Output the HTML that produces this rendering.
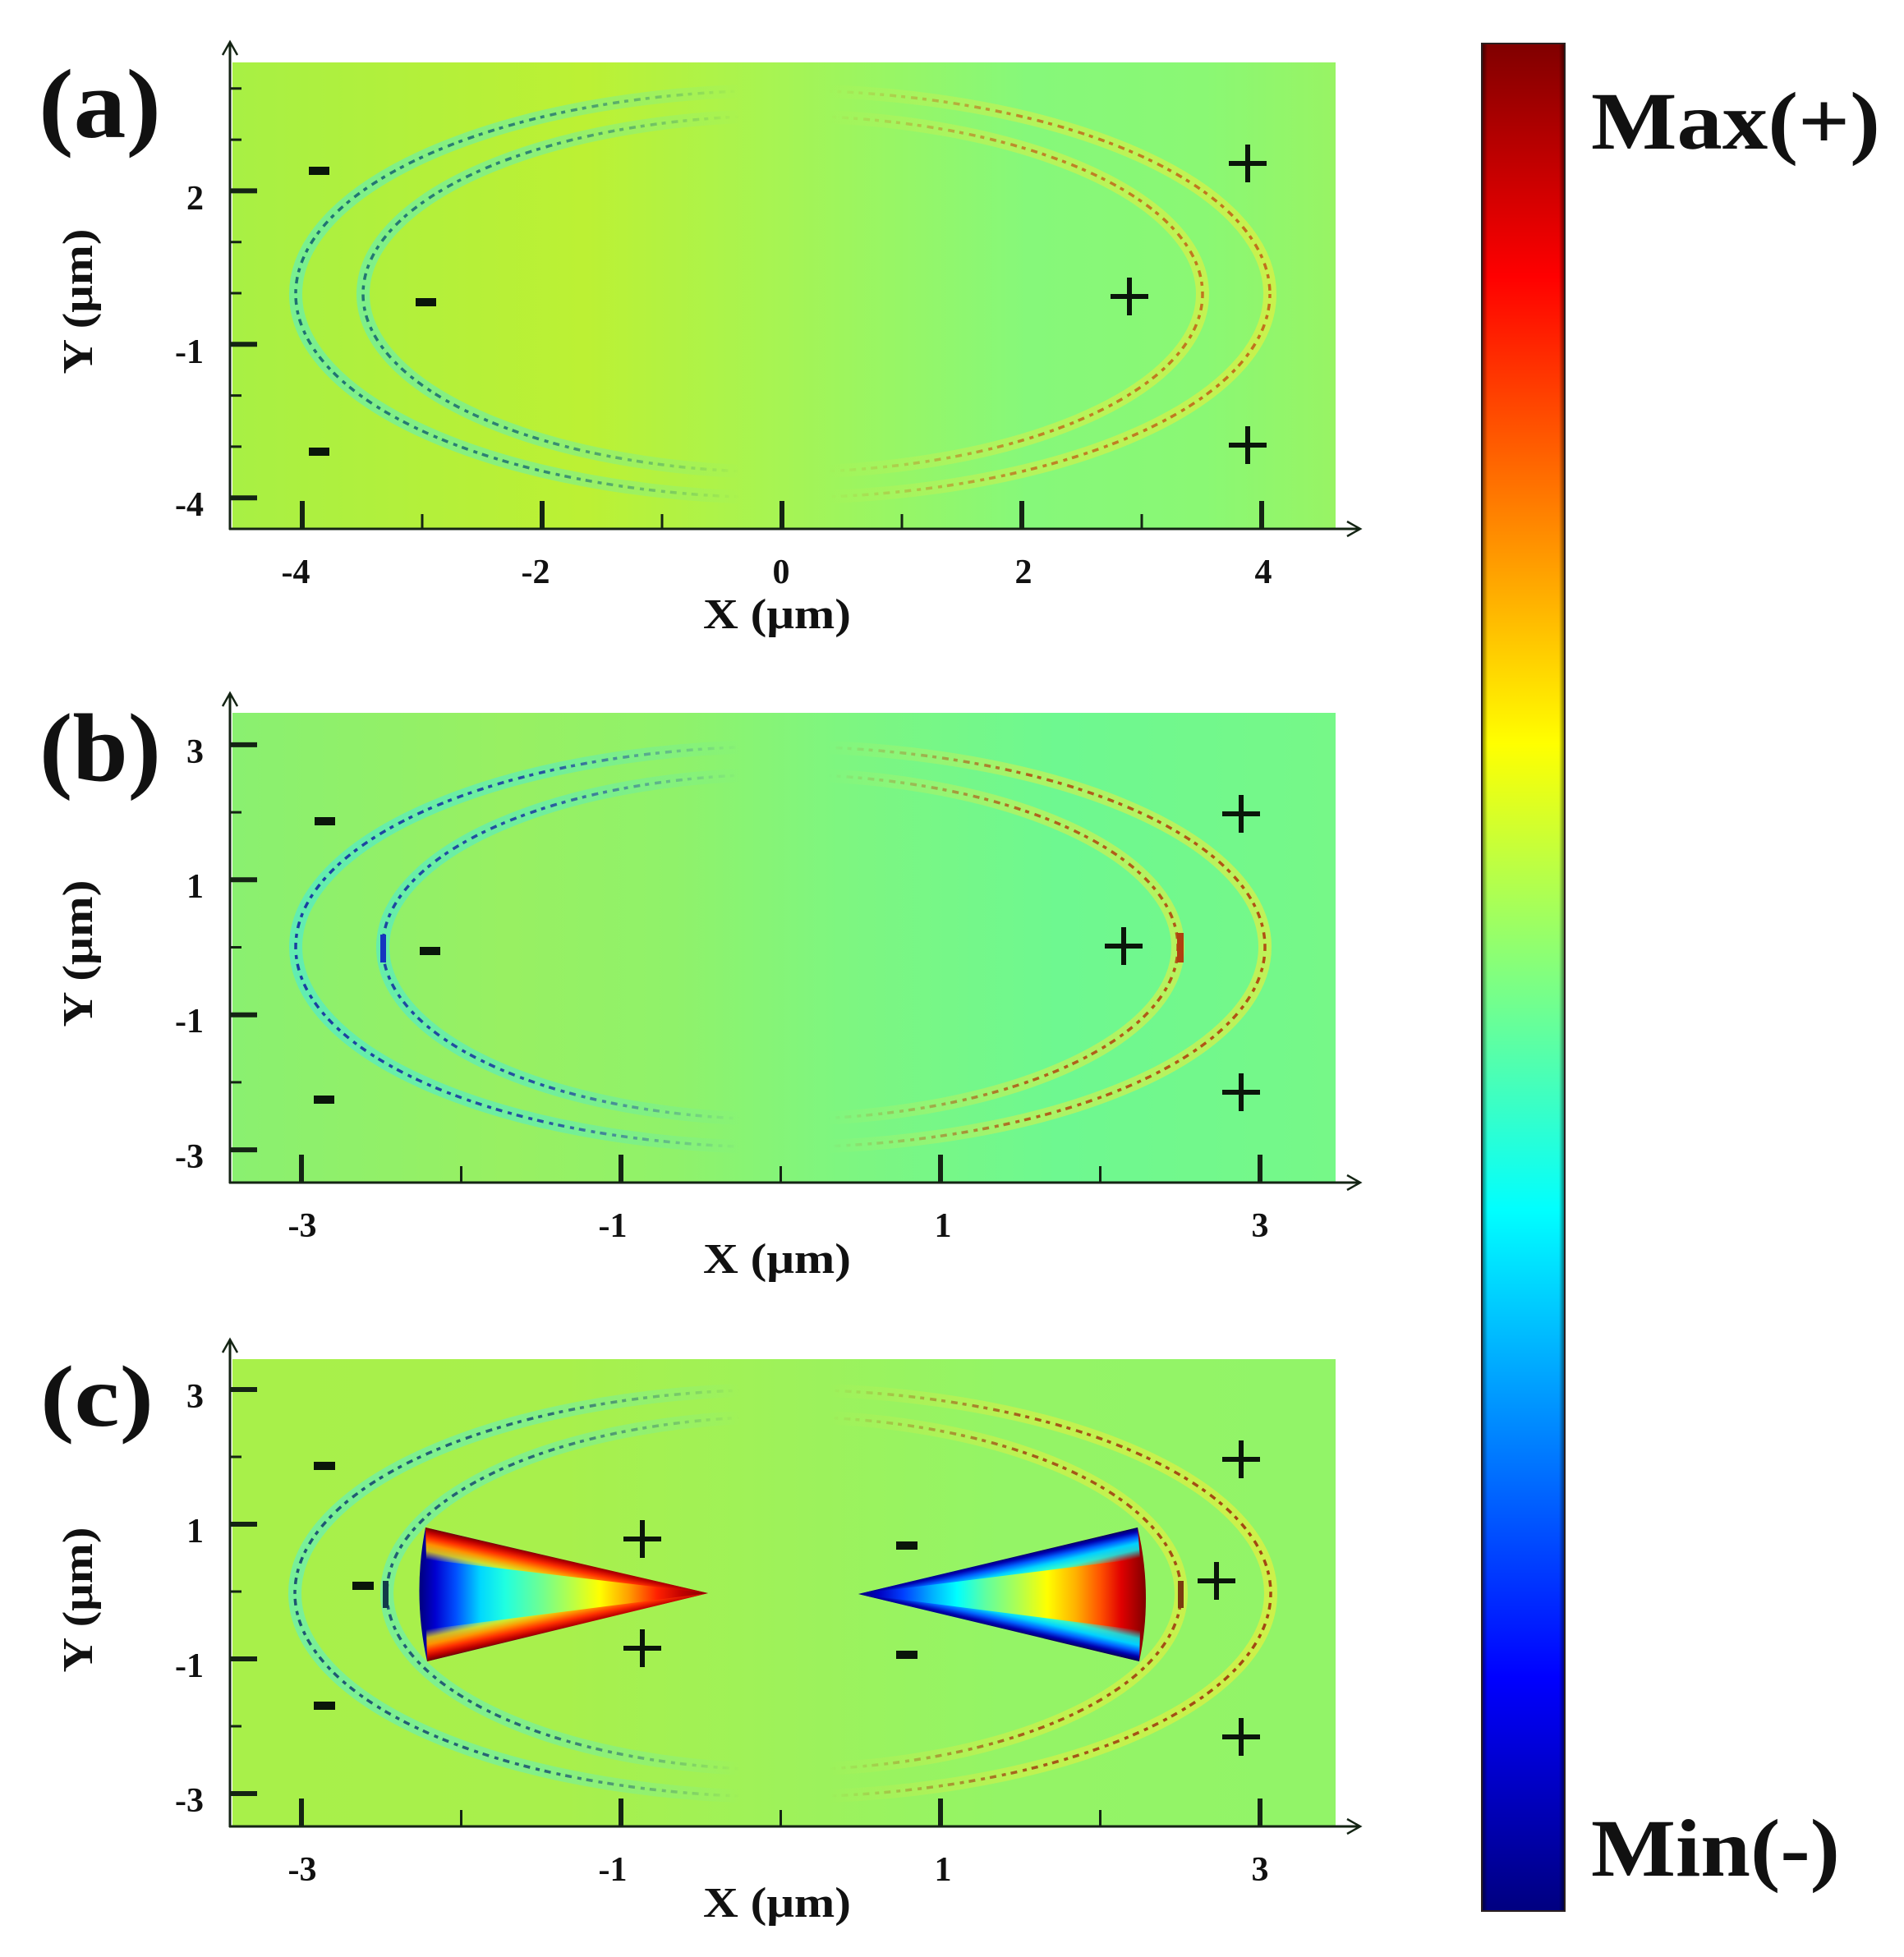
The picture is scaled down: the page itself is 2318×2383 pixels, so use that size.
<!DOCTYPE html>
<html>
<head>
<meta charset="utf-8">
<style>
html,body{margin:0;padding:0;background:#fff;}
svg{display:block;}
text{font-family:"Liberation Serif","DejaVu Serif",serif;font-weight:bold;fill:#111;}
</style>
</head>
<body>
<svg xmlns="http://www.w3.org/2000/svg" width="2318" height="2383" viewBox="0 0 2318 2383">
<defs>
  <linearGradient id="bgA" gradientUnits="userSpaceOnUse" x1="283" y1="0" x2="1626" y2="0">
    <stop offset="0" stop-color="#a8f044"/>
    <stop offset="0.18" stop-color="#b4f03a"/>
    <stop offset="0.32" stop-color="#bcf134"/>
    <stop offset="0.5" stop-color="#a6f454"/>
    <stop offset="0.72" stop-color="#86f87a"/>
    <stop offset="0.88" stop-color="#8af874"/>
    <stop offset="1" stop-color="#98f464"/>
  </linearGradient>
  <linearGradient id="bgB" gradientUnits="userSpaceOnUse" x1="283" y1="0" x2="1626" y2="0">
    <stop offset="0" stop-color="#8af070"/>
    <stop offset="0.25" stop-color="#98f062"/>
    <stop offset="0.4" stop-color="#90f26a"/>
    <stop offset="0.55" stop-color="#7ef680"/>
    <stop offset="0.75" stop-color="#6ef890"/>
    <stop offset="1" stop-color="#76f888"/>
  </linearGradient>
  <linearGradient id="bgC" gradientUnits="userSpaceOnUse" x1="283" y1="0" x2="1626" y2="0">
    <stop offset="0" stop-color="#a8f04a"/>
    <stop offset="0.3" stop-color="#a8f04c"/>
    <stop offset="0.5" stop-color="#9ef25a"/>
    <stop offset="0.7" stop-color="#94f466"/>
    <stop offset="1" stop-color="#92f468"/>
  </linearGradient>

  <linearGradient id="glowA" gradientUnits="userSpaceOnUse" x1="283" y1="0" x2="1626" y2="0">
    <stop offset="0" stop-color="#60f0b8" stop-opacity="0.7"/>
    <stop offset="0.28" stop-color="#60f0b8" stop-opacity="0.5"/>
    <stop offset="0.38" stop-color="#60f0b8" stop-opacity="0.25"/>
    <stop offset="0.46" stop-color="#60f0b8" stop-opacity="0"/>
    <stop offset="0.54" stop-color="#e0f040" stop-opacity="0"/>
    <stop offset="0.62" stop-color="#e0f040" stop-opacity="0.25"/>
    <stop offset="0.72" stop-color="#e0f040" stop-opacity="0.5"/>
    <stop offset="1" stop-color="#e0f040" stop-opacity="0.75"/>
  </linearGradient>
  <linearGradient id="coreA" gradientUnits="userSpaceOnUse" x1="283" y1="0" x2="1626" y2="0">
    <stop offset="0" stop-color="#1a6a70" stop-opacity="1"/>
    <stop offset="0.28" stop-color="#1a6a70" stop-opacity="0.8"/>
    <stop offset="0.38" stop-color="#1a6a70" stop-opacity="0.35"/>
    <stop offset="0.46" stop-color="#1a6a70" stop-opacity="0"/>
    <stop offset="0.54" stop-color="#c06a1a" stop-opacity="0"/>
    <stop offset="0.62" stop-color="#c06a1a" stop-opacity="0.35"/>
    <stop offset="0.72" stop-color="#c06a1a" stop-opacity="0.8"/>
    <stop offset="1" stop-color="#c06a1a" stop-opacity="1"/>
  </linearGradient>
  <linearGradient id="glowB" gradientUnits="userSpaceOnUse" x1="283" y1="0" x2="1626" y2="0">
    <stop offset="0" stop-color="#50eccc" stop-opacity="0.75"/>
    <stop offset="0.28" stop-color="#50eccc" stop-opacity="0.55"/>
    <stop offset="0.38" stop-color="#50eccc" stop-opacity="0.25"/>
    <stop offset="0.46" stop-color="#50eccc" stop-opacity="0"/>
    <stop offset="0.54" stop-color="#d8f048" stop-opacity="0"/>
    <stop offset="0.62" stop-color="#d8f048" stop-opacity="0.25"/>
    <stop offset="0.72" stop-color="#d8f048" stop-opacity="0.55"/>
    <stop offset="1" stop-color="#d8f048" stop-opacity="0.8"/>
  </linearGradient>
  <linearGradient id="coreB" gradientUnits="userSpaceOnUse" x1="283" y1="0" x2="1626" y2="0">
    <stop offset="0" stop-color="#1838a0" stop-opacity="1"/>
    <stop offset="0.28" stop-color="#1838a0" stop-opacity="0.85"/>
    <stop offset="0.38" stop-color="#1838a0" stop-opacity="0.35"/>
    <stop offset="0.46" stop-color="#1838a0" stop-opacity="0"/>
    <stop offset="0.54" stop-color="#b04a10" stop-opacity="0"/>
    <stop offset="0.62" stop-color="#b04a10" stop-opacity="0.35"/>
    <stop offset="0.72" stop-color="#b04a10" stop-opacity="0.85"/>
    <stop offset="1" stop-color="#b04a10" stop-opacity="1"/>
  </linearGradient>
  <linearGradient id="glowC" gradientUnits="userSpaceOnUse" x1="283" y1="0" x2="1626" y2="0">
    <stop offset="0" stop-color="#60f0c0" stop-opacity="0.7"/>
    <stop offset="0.28" stop-color="#60f0c0" stop-opacity="0.5"/>
    <stop offset="0.38" stop-color="#60f0c0" stop-opacity="0.25"/>
    <stop offset="0.46" stop-color="#60f0c0" stop-opacity="0"/>
    <stop offset="0.54" stop-color="#e0f040" stop-opacity="0"/>
    <stop offset="0.62" stop-color="#e0f040" stop-opacity="0.25"/>
    <stop offset="0.72" stop-color="#e0f040" stop-opacity="0.55"/>
    <stop offset="1" stop-color="#e0f040" stop-opacity="0.8"/>
  </linearGradient>
  <linearGradient id="coreC" gradientUnits="userSpaceOnUse" x1="283" y1="0" x2="1626" y2="0">
    <stop offset="0" stop-color="#1a5070" stop-opacity="1"/>
    <stop offset="0.28" stop-color="#1a5070" stop-opacity="0.85"/>
    <stop offset="0.38" stop-color="#1a5070" stop-opacity="0.35"/>
    <stop offset="0.46" stop-color="#1a5070" stop-opacity="0"/>
    <stop offset="0.54" stop-color="#a04010" stop-opacity="0"/>
    <stop offset="0.62" stop-color="#a04010" stop-opacity="0.35"/>
    <stop offset="0.72" stop-color="#a04010" stop-opacity="0.85"/>
    <stop offset="1" stop-color="#a04010" stop-opacity="1"/>
  </linearGradient>

  <linearGradient id="triL" gradientUnits="userSpaceOnUse" x1="510" y1="0" x2="862" y2="0">
    <stop offset="0" stop-color="#00007a"/>
    <stop offset="0.057" stop-color="#0000d0"/>
    <stop offset="0.128" stop-color="#0050ff"/>
    <stop offset="0.213" stop-color="#00d8ff"/>
    <stop offset="0.298" stop-color="#20ffe0"/>
    <stop offset="0.426" stop-color="#70ff90"/>
    <stop offset="0.54" stop-color="#c0ff40"/>
    <stop offset="0.625" stop-color="#ffff00"/>
    <stop offset="0.724" stop-color="#ffa000"/>
    <stop offset="0.824" stop-color="#ff2000"/>
    <stop offset="0.91" stop-color="#c00000"/>
    <stop offset="1" stop-color="#800000"/>
  </linearGradient>
  <linearGradient id="bandLT" gradientUnits="userSpaceOnUse" x1="600" y1="1879" x2="592" y2="1915">
    <stop offset="0" stop-color="#7a0000"/>
    <stop offset="0.12" stop-color="#c00000"/>
    <stop offset="0.3" stop-color="#ff3000"/>
    <stop offset="0.5" stop-color="#ff9000"/>
    <stop offset="0.72" stop-color="#ffe000" stop-opacity="0.8"/>
    <stop offset="1" stop-color="#ffff40" stop-opacity="0"/>
  </linearGradient>
  <linearGradient id="bandLB" gradientUnits="userSpaceOnUse" x1="600" y1="2004" x2="592" y2="1968">
    <stop offset="0" stop-color="#7a0000"/>
    <stop offset="0.12" stop-color="#c00000"/>
    <stop offset="0.3" stop-color="#ff3000"/>
    <stop offset="0.5" stop-color="#ff9000"/>
    <stop offset="0.72" stop-color="#ffe000" stop-opacity="0.8"/>
    <stop offset="1" stop-color="#ffff40" stop-opacity="0"/>
  </linearGradient>
  <linearGradient id="triR" gradientUnits="userSpaceOnUse" x1="1045" y1="0" x2="1395" y2="0">
    <stop offset="0" stop-color="#000070"/>
    <stop offset="0.071" stop-color="#0000c0"/>
    <stop offset="0.157" stop-color="#0040ff"/>
    <stop offset="0.257" stop-color="#00b0ff"/>
    <stop offset="0.343" stop-color="#00ffff"/>
    <stop offset="0.443" stop-color="#60ffa0"/>
    <stop offset="0.557" stop-color="#b0ff50"/>
    <stop offset="0.657" stop-color="#ffff00"/>
    <stop offset="0.757" stop-color="#ffb000"/>
    <stop offset="0.843" stop-color="#ff5000"/>
    <stop offset="0.914" stop-color="#e00000"/>
    <stop offset="1" stop-color="#800000"/>
  </linearGradient>
  <linearGradient id="bandRT" gradientUnits="userSpaceOnUse" x1="1300" y1="1880" x2="1308" y2="1915">
    <stop offset="0" stop-color="#000060"/>
    <stop offset="0.12" stop-color="#0000b0"/>
    <stop offset="0.3" stop-color="#0060ff"/>
    <stop offset="0.5" stop-color="#00d0ff"/>
    <stop offset="0.72" stop-color="#00ffff" stop-opacity="0.8"/>
    <stop offset="1" stop-color="#00ffff" stop-opacity="0"/>
  </linearGradient>
  <linearGradient id="bandRB" gradientUnits="userSpaceOnUse" x1="1300" y1="2002" x2="1308" y2="1967">
    <stop offset="0" stop-color="#000060"/>
    <stop offset="0.12" stop-color="#0000b0"/>
    <stop offset="0.3" stop-color="#0060ff"/>
    <stop offset="0.5" stop-color="#00d0ff"/>
    <stop offset="0.72" stop-color="#00ffff" stop-opacity="0.8"/>
    <stop offset="1" stop-color="#00ffff" stop-opacity="0"/>
  </linearGradient>

  <linearGradient id="jet" x1="0" y1="0" x2="0" y2="1">
    <stop offset="0" stop-color="#800000"/>
    <stop offset="0.125" stop-color="#ff0000"/>
    <stop offset="0.375" stop-color="#ffff00"/>
    <stop offset="0.5" stop-color="#80ff80"/>
    <stop offset="0.625" stop-color="#00ffff"/>
    <stop offset="0.875" stop-color="#0000ff"/>
    <stop offset="1" stop-color="#000080"/>
  </linearGradient>
  <linearGradient id="cbshade" x1="0" y1="0" x2="1" y2="0">
    <stop offset="0" stop-color="#000" stop-opacity="0.55"/>
    <stop offset="0.07" stop-color="#000" stop-opacity="0"/>
    <stop offset="0.93" stop-color="#000" stop-opacity="0"/>
    <stop offset="1" stop-color="#000" stop-opacity="0.55"/>
  </linearGradient>
</defs>

<rect x="0" y="0" width="2318" height="2383" fill="#fff"/>

<!-- ===================== PANEL A ===================== -->
<rect x="283" y="76" width="1343" height="568" fill="url(#bgA)"/>
<g fill="none">
  <ellipse cx="953" cy="358" rx="593" ry="248" stroke="url(#glowA)" stroke-width="16"/>
  <ellipse cx="953" cy="358" rx="511" ry="217" stroke="url(#glowA)" stroke-width="16"/>
  <ellipse cx="953" cy="358" rx="593" ry="248" stroke="url(#coreA)" stroke-width="3.5" stroke-dasharray="5 7 8 6"/>
  <ellipse cx="953" cy="358" rx="511" ry="217" stroke="url(#coreA)" stroke-width="3.5" stroke-dasharray="5 7 8 6"/>
</g>
<g fill="#0a160a">
  <rect x="376" y="203" width="25" height="10"/>
  <rect x="506" y="363" width="25" height="10"/>
  <rect x="376" y="545" width="25" height="10"/>
</g>
<g stroke="#0a160a" stroke-width="6" fill="none">
  <path d="M1496 199h46M1519 176v46"/>
  <path d="M1352 361h46M1375 338v46"/>
  <path d="M1496 542h46M1519 519v46"/>
</g>
<g stroke="#142414" fill="none">
  <g stroke-width="6">
    <path d="M280 232.4h33M280 419.3h33M280 606.2h33"/>
    <path d="M368 644v-34M660 644v-34M952 644v-34M1244 644v-34M1536 644v-34"/>
  </g>
  <g stroke-width="3">
    <path d="M280 107.8h14M280 170.1h14M280 294.7h14M280 357h14M280 481.6h14M280 543.9h14"/>
    <path d="M514 644v-18M806 644v-18M1098 644v-18M1390 644v-18"/>
  </g>
  <path d="M280 645V52M279 644H1655" stroke-width="3"/>
  <path d="M271 67L280 51L289 67M1640 635L1656 644L1640 653" stroke-width="2.5"/>
</g>
<g font-size="42">
  <g text-anchor="end">
    <text x="248" y="255">2</text>
    <text x="248" y="442">-1</text>
    <text x="248" y="628">-4</text>
  </g>
  <g text-anchor="middle">
    <text x="360" y="710">-4</text>
    <text x="652" y="710">-2</text>
    <text x="951" y="710">0</text>
    <text x="1246" y="710">2</text>
    <text x="1538" y="710">4</text>
  </g>
</g>
<text x="946" y="765" font-size="52" text-anchor="middle" textLength="180" lengthAdjust="spacingAndGlyphs">X (μm)</text>
<text transform="translate(112,367) rotate(-90)" x="0" y="0" font-size="52" text-anchor="middle" textLength="177" lengthAdjust="spacingAndGlyphs">Y (μm)</text>
<text x="47" y="167" font-size="120" textLength="149" lengthAdjust="spacingAndGlyphs">(a)</text>

<!-- ===================== PANEL B ===================== -->
<rect x="283" y="868" width="1343" height="572" fill="url(#bgB)"/>
<g fill="none">
  <ellipse cx="950" cy="1153" rx="590" ry="244" stroke="url(#glowB)" stroke-width="16"/>
  <ellipse cx="950" cy="1153" rx="484" ry="210" stroke="url(#glowB)" stroke-width="16"/>
  <ellipse cx="950" cy="1153" rx="590" ry="244" stroke="url(#coreB)" stroke-width="3.5" stroke-dasharray="5 7 8 6"/>
  <ellipse cx="950" cy="1153" rx="484" ry="210" stroke="url(#coreB)" stroke-width="3.5" stroke-dasharray="5 7 8 6"/>
</g>
<rect x="463" y="1138" width="7" height="34" fill="#1535c0"/>
<rect x="1433" y="1136" width="8" height="36" fill="#b04010"/>
<g fill="#0a160a">
  <rect x="383" y="995" width="25" height="10"/>
  <rect x="511" y="1153" width="25" height="10"/>
  <rect x="382" y="1334" width="25" height="10"/>
</g>
<g stroke="#0a160a" stroke-width="6" fill="none">
  <path d="M1488 991h46M1511 968v46"/>
  <path d="M1345 1152h46M1368 1129v46"/>
  <path d="M1488 1330h46M1511 1307v46"/>
</g>
<g stroke="#142414" fill="none">
  <g stroke-width="6">
    <path d="M280 906.9h33M280 1071.3h33M280 1235.7h33M280 1400.1h33"/>
    <path d="M367 1440v-34M756 1440v-34M1145 1440v-34M1534 1440v-34"/>
  </g>
  <g stroke-width="3">
    <path d="M280 989.1h14M280 1153.5h14M280 1317.9h14"/>
    <path d="M561.5 1440v-20M950.5 1440v-20M1339.5 1440v-20"/>
  </g>
  <path d="M280 1441V844M279 1440H1655" stroke-width="3"/>
  <path d="M271 860L280 844L289 860M1640 1431L1656 1440L1640 1449" stroke-width="2.5"/>
</g>
<g font-size="42">
  <g text-anchor="end">
    <text x="248" y="929">3</text>
    <text x="248" y="1093">1</text>
    <text x="248" y="1257">-1</text>
    <text x="248" y="1422">-3</text>
  </g>
  <g text-anchor="middle">
    <text x="368" y="1506">-3</text>
    <text x="746" y="1506">-1</text>
    <text x="1148" y="1506">1</text>
    <text x="1534" y="1506">3</text>
  </g>
</g>
<text x="946" y="1550" font-size="52" text-anchor="middle" textLength="180" lengthAdjust="spacingAndGlyphs">X (μm)</text>
<text transform="translate(112,1161) rotate(-90)" x="0" y="0" font-size="52" text-anchor="middle" textLength="179" lengthAdjust="spacingAndGlyphs">Y (μm)</text>
<text x="48" y="950" font-size="118" textLength="148" lengthAdjust="spacingAndGlyphs">(b)</text>

<!-- ===================== PANEL C ===================== -->
<rect x="283" y="1655" width="1343" height="569" fill="url(#bgC)"/>
<g fill="none">
  <ellipse cx="953" cy="1940" rx="594" ry="248" stroke="url(#glowC)" stroke-width="16"/>
  <ellipse cx="954.5" cy="1940" rx="483.5" ry="215" stroke="url(#glowC)" stroke-width="16"/>
  <ellipse cx="953" cy="1940" rx="594" ry="248" stroke="url(#coreC)" stroke-width="3.5" stroke-dasharray="5 7 8 6"/>
  <ellipse cx="954.5" cy="1940" rx="483.5" ry="215" stroke="url(#coreC)" stroke-width="3.5" stroke-dasharray="5 7 8 6"/>
</g>
<rect x="466" y="1925" width="7" height="33" fill="#123a4a"/>
<rect x="1434" y="1925" width="7" height="33" fill="#7a3a10"/>
<path d="M518 1860 L862 1940 L520 2023 Q502 1942 518 1860 Z" fill="url(#triL)"/>
<path d="M518 1860 L862 1940 L519 1899 Z" fill="url(#bandLT)"/>
<path d="M520 2023 L862 1940 L519 1984 Z" fill="url(#bandLB)"/>
<path d="M1045 1941 L1385 1860 Q1404 1942 1387 2023 Z" fill="url(#triR)"/>
<path d="M1045 1941 L1385 1860 L1388 1898 Z" fill="url(#bandRT)"/>
<path d="M1045 1941 L1387 2023 L1388 1985 Z" fill="url(#bandRB)"/>
<g fill="#0a160a">
  <rect x="382" y="1780" width="26" height="10"/>
  <rect x="382" y="2072" width="26" height="10"/>
  <rect x="429" y="1926" width="26" height="10"/>
  <rect x="1091" y="1877" width="26" height="10"/>
  <rect x="1091" y="2010" width="26" height="10"/>
</g>
<g stroke="#0a160a" stroke-width="6" fill="none">
  <path d="M759 1874h46M782 1851v46"/>
  <path d="M759 2007h46M782 1984v46"/>
  <path d="M1488 1777h46M1511 1754v46"/>
  <path d="M1458 1925h46M1481 1902v46"/>
  <path d="M1488 2115h46M1511 2092v46"/>
</g>
<g stroke="#142414" fill="none">
  <g stroke-width="6">
    <path d="M280 1692h33M280 1856h33M280 2020h33M280 2184h33"/>
    <path d="M367 2224v-34M756 2224v-34M1145 2224v-34M1534 2224v-34"/>
  </g>
  <g stroke-width="3">
    <path d="M280 1774h14M280 1938h14M280 2102h14"/>
    <path d="M561.5 2224v-20M950.5 2224v-20M1339.5 2224v-20"/>
  </g>
  <path d="M280 2225V1631M279 2224H1655" stroke-width="3"/>
  <path d="M271 1647L280 1631L289 1647M1640 2215L1656 2224L1640 2233" stroke-width="2.5"/>
</g>
<g font-size="42">
  <g text-anchor="end">
    <text x="248" y="1714">3</text>
    <text x="248" y="1878">1</text>
    <text x="248" y="2042">-1</text>
    <text x="248" y="2206">-3</text>
  </g>
  <g text-anchor="middle">
    <text x="368" y="2290">-3</text>
    <text x="746" y="2290">-1</text>
    <text x="1148" y="2290">1</text>
    <text x="1534" y="2290">3</text>
  </g>
</g>
<text x="946" y="2334" font-size="52" text-anchor="middle" textLength="180" lengthAdjust="spacingAndGlyphs">X (μm)</text>
<text transform="translate(112,1948) rotate(-90)" x="0" y="0" font-size="52" text-anchor="middle" textLength="177" lengthAdjust="spacingAndGlyphs">Y (μm)</text>
<text x="49" y="1736" font-size="106" textLength="138" lengthAdjust="spacingAndGlyphs">(c)</text>

<!-- ===================== COLORBAR ===================== -->
<rect x="1804" y="53" width="101" height="2274" fill="url(#jet)"/>
<rect x="1804" y="53" width="101" height="2274" fill="url(#cbshade)"/>
<rect x="1804" y="53" width="101" height="2274" fill="none" stroke="#2a2020" stroke-width="2"/>
<text x="1937" y="181" font-size="100" textLength="352" lengthAdjust="spacingAndGlyphs">Max(+)</text>
<text x="1937" y="2284" font-size="100" textLength="303" lengthAdjust="spacingAndGlyphs">Min(-)</text>
</svg>
</body>
</html>
